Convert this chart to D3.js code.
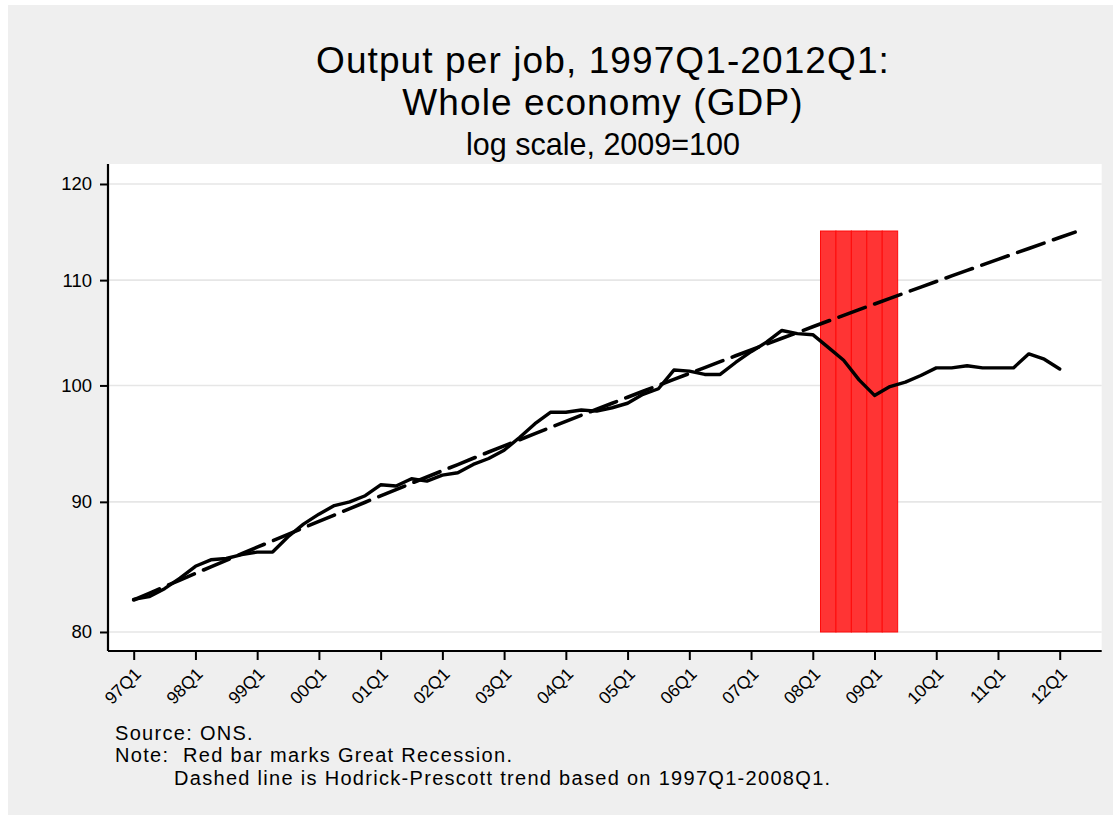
<!DOCTYPE html>
<html>
<head>
<meta charset="utf-8">
<script src="https://cdn.jsdelivr.net/npm/d3@7"></script>
<style>
  html, body { margin: 0; padding: 0; background: #ffffff; }
  svg { display: block; font-family: "Liberation Sans", Arial, Helvetica, sans-serif; }
  .pre { white-space: pre; }
</style>
</head>
<body>
<svg id="chart" width="1120" height="820"></svg>
<script>
// ---- data ----
const quarters = [
  "97Q1","97Q2","97Q3","97Q4","98Q1","98Q2","98Q3","98Q4",
  "99Q1","99Q2","99Q3","99Q4","00Q1","00Q2","00Q3","00Q4",
  "01Q1","01Q2","01Q3","01Q4","02Q1","02Q2","02Q3","02Q4",
  "03Q1","03Q2","03Q3","03Q4","04Q1","04Q2","04Q3","04Q4",
  "05Q1","05Q2","05Q3","05Q4","06Q1","06Q2","06Q3","06Q4",
  "07Q1","07Q2","07Q3","07Q4","08Q1","08Q2","08Q3","08Q4",
  "09Q1","09Q2","09Q3","09Q4","10Q1","10Q2","10Q3","10Q4",
  "11Q1","11Q2","11Q3","11Q4","12Q1","12Q2"
];
// Output per job, 2009=100 (1997Q1-2012Q1)
const outputPerJob = [
  82.4, 82.6, 83.2, 84.0, 84.9, 85.4, 85.5, 85.8,
  86.0, 86.0, 87.2, 88.2, 89.0, 89.7, 90.0, 90.5,
  91.4, 91.3, 91.9, 91.7, 92.2, 92.4, 93.1, 93.6,
  94.3, 95.4, 96.6, 97.6, 97.6, 97.8, 97.7, 98.0,
  98.4, 99.2, 99.7, 101.4, 101.3, 101.0, 101.0, 102.1,
  103.1, 104.0, 105.1, 104.8, 104.7, 103.5, 102.3, 100.5,
  99.1, 99.9, 100.3, 100.9, 101.6, 101.6, 101.8, 101.6,
  101.6, 101.6, 102.9, 102.4, 101.5
];
// Hodrick-Prescott trend (1997Q1-2008Q1 base), extended to 2012Q2
const hpTrend = [
  82.35, 82.85, 83.35, 83.85, 84.35, 84.86, 85.36, 85.87,
  86.38, 86.88, 87.39, 87.91, 88.42, 88.93, 89.45, 89.97,
  90.49, 91.00, 91.53, 92.05, 92.57, 93.09, 93.62, 94.15,
  94.68, 95.20, 95.73, 96.27, 96.80, 97.33, 97.87, 98.40,
  98.94, 99.47, 100.01, 100.55, 101.09, 101.63, 102.18, 102.72,
  103.26, 103.81, 104.36, 104.90, 105.45, 106.00, 106.55, 107.10,
  107.65, 108.20, 108.75, 109.31, 109.86, 110.42, 110.97, 111.53,
  112.08, 112.64, 113.20, 113.76, 114.32, 114.88
];
const recessionQuarters = ["08Q2","08Q3","08Q4","09Q1","09Q2"];
const recessionTop = 115;
const recessionBase = 80;
const xTickLabels = ["97Q1","98Q1","99Q1","00Q1","01Q1","02Q1","03Q1","04Q1",
                     "05Q1","06Q1","07Q1","08Q1","09Q1","10Q1","11Q1","12Q1"];
const yTickValues = [80, 90, 100, 110, 120];
const titleLines = ["Output per job, 1997Q1-2012Q1:", "Whole economy (GDP)"];
const subtitle = "log scale, 2009=100";
const notes = [
  "Source: ONS.",
  "Note:  Red bar marks Great Recession.",
  "Dashed line is Hodrick-Prescott trend based on 1997Q1-2008Q1."
];

// ---- layout ----
const svg = d3.select("#chart");
const plot = { left: 108, right: 1101.7, top: 164, bottom: 651 };

svg.append("rect").attr("x", 8).attr("y", 5).attr("width", 1105).attr("height", 810)
  .attr("fill", "#efefef");
svg.append("rect").attr("x", plot.left).attr("y", plot.top)
  .attr("width", plot.right - plot.left).attr("height", plot.bottom - plot.top)
  .attr("fill", "#ffffff");

const qIndex = q => quarters.indexOf(q);
const x = d3.scaleLinear().domain([-1.665, 62.72]).range([plot.left, plot.right]);
const y = d3.scaleLog().domain([78.635, 122.19]).range([plot.bottom, plot.top]);

// gridlines
svg.append("g").selectAll("line").data(yTickValues).join("line")
  .attr("x1", plot.left).attr("x2", plot.right)
  .attr("y1", d => y(d)).attr("y2", d => y(d))
  .attr("stroke", "#e6e6e6").attr("stroke-width", 1.6);

// recession bars
svg.append("g").selectAll("rect").data(recessionQuarters).join("rect")
  .attr("x", d => x(qIndex(d) - 0.5))
  .attr("width", d => x(qIndex(d) + 0.5) - x(qIndex(d) - 0.5))
  .attr("y", y(recessionTop))
  .attr("height", y(recessionBase) - y(recessionTop))
  .attr("fill", "#ff3434").attr("stroke", "#ff0a0a").attr("stroke-width", 1);

// trend line (dashed)
const seriesLine = d3.line().x((d, i) => x(i)).y(d => y(d));
svg.append("path").datum(hpTrend).attr("d", seriesLine)
  .attr("fill", "none").attr("stroke", "#000").attr("stroke-width", 3.6)
  .attr("stroke-dasharray", "28 10").attr("stroke-linecap", "round");

// actual line
svg.append("path").datum(outputPerJob).attr("d", seriesLine)
  .attr("fill", "none").attr("stroke", "#000").attr("stroke-width", 3.4)
  .attr("stroke-linejoin", "round").attr("stroke-linecap", "round");

// y axis
const yAxis = d3.axisLeft(y).tickValues(yTickValues).tickFormat(d3.format("d"))
  .tickSize(8).tickPadding(8);
const gy = svg.append("g").attr("transform", `translate(${plot.left},0)`).call(yAxis);
gy.select(".domain").attr("d", `M0,${plot.top}V${plot.bottom}`).attr("stroke-width", 2.2);
gy.selectAll(".tick line").attr("stroke-width", 2);
gy.selectAll(".tick text").attr("font-size", 18.5).attr("font-family", "Liberation Sans, Arial, sans-serif")
  .attr("fill", "#000");

// x axis
const xAxis = d3.axisBottom(x).tickValues(xTickLabels.map(qIndex))
  .tickFormat(i => quarters[i]).tickSize(9).tickPadding(0);
const gx = svg.append("g").attr("transform", `translate(0,${plot.bottom})`).call(xAxis);
gx.select(".domain").attr("d", `M${plot.left},0H${plot.right}`).attr("stroke-width", 2.2);
gx.selectAll(".tick line").attr("stroke-width", 2);
gx.selectAll(".tick text")
  .attr("font-size", 17.5).attr("font-family", "Liberation Sans, Arial, sans-serif").attr("fill", "#000")
  .attr("text-anchor", "end").attr("y", 0).attr("dy", 0)
  .attr("transform", "translate(8,24) rotate(-45)");

// titles
const title = svg.append("g").attr("text-anchor", "middle").attr("fill", "#000");
title.selectAll("text.t").data(titleLines).join("text").attr("class", "t")
  .attr("x", 603).attr("y", (d, i) => 73 + i * 41.5)
  .attr("font-size", 37).attr("letter-spacing", 1.1).text(d => d);
title.append("text").attr("x", 603).attr("y", 155).attr("font-size", 30.5).text(subtitle);

// notes
const noteX = [115, 115, 174];
svg.append("g").selectAll("text").data(notes).join("text")
  .attr("class", "pre")
  .attr("x", (d, i) => noteX[i]).attr("y", (d, i) => 739.5 + i * 22.5)
  .attr("font-size", 20).attr("letter-spacing", 1.3).attr("fill", "#000").text(d => d);
</script>
</body>
</html>
